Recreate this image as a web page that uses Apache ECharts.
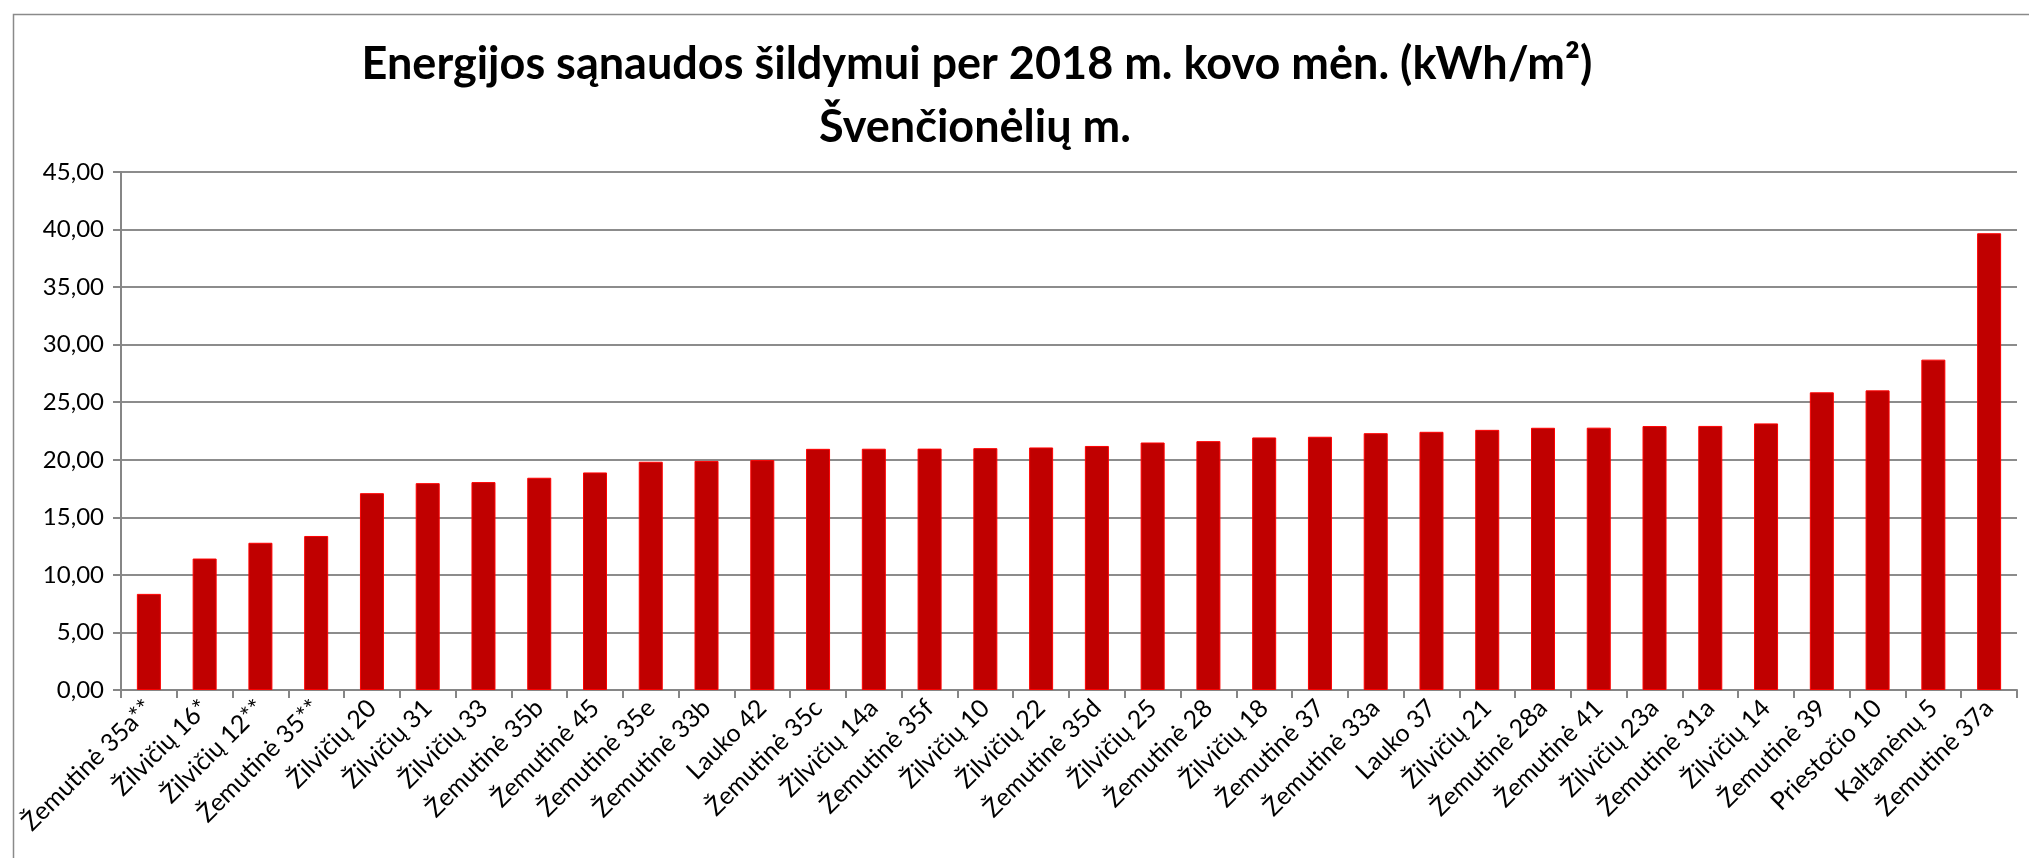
<!DOCTYPE html>
<html>
<head>
<meta charset="utf-8">
<script src="https://cdn.jsdelivr.net/npm/echarts@6/dist/echarts.min.js"></script>
<style>
  html, body { margin: 0; padding: 0; background: #fff; }
  #energy-chart { width: 2029px; height: 858px; }
</style>
</head>
<body>
<div id="energy-chart"></div>
<script>
const titleLines = ['Energijos sąnaudos šildymui per 2018 m. kovo mėn. (kWh/m²)', 'Švenčionėlių m.'];

const buildings = [
  'Žemutinė 35a**', 'Žilvičių 16*', 'Žilvičių 12**', 'Žemutinė 35**', 'Žilvičių 20',
  'Žilvičių 31', 'Žilvičių 33', 'Žemutinė 35b', 'Žemutinė 45', 'Žemutinė 35e',
  'Žemutinė 33b', 'Lauko 42', 'Žemutinė 35c', 'Žilvičių 14a', 'Žemutinė 35f',
  'Žilvičių 10', 'Žilvičių 22', 'Žemutinė 35d', 'Žilvičių 25', 'Žemutinė 28',
  'Žilvičių 18', 'Žemutinė 37', 'Žemutinė 33a', 'Lauko 37', 'Žilvičių 21',
  'Žemutinė 28a', 'Žemutinė 41', 'Žilvičių 23a', 'Žemutinė 31a', 'Žilvičių 14',
  'Žemutinė 39', 'Priestočio 10', 'Kaltanėnų 5', 'Žemutinė 37a'
];

const heatingUse = [
  8.35, 11.42, 12.79, 13.38, 17.10,
  17.97, 18.06, 18.44, 18.90, 19.83,
  19.90, 19.97, 20.95, 20.96, 20.97,
  21.01, 21.07, 21.20, 21.50, 21.62,
  21.94, 22.00, 22.31, 22.43, 22.60,
  22.78, 22.79, 22.93, 22.94, 23.16,
  25.86, 26.03, 28.70, 39.68
];

const yTicks = { min: 0, max: 45, step: 5 };

const chart = echarts.init(document.getElementById('energy-chart'));
const font = 'Lato, "Open Sans", sans-serif';

const option = {
  animation: false,
  backgroundColor: '#ffffff',
  textStyle: { fontFamily: font },
  graphic: [{
    type: 'rect',
    left: 11,
    top: 12,
    shape: { width: 2040, height: 860 },
    style: { fill: 'none', stroke: '#8a8a8a', lineWidth: 1.5 },
    silent: true
  }, {
    type: 'text',
    x: 977,
    y: 42,
    style: {
      text: titleLines[0],
      font: 'bold 45px ' + font,
      fill: '#000',
      textAlign: 'center'
    }
  }, {
    type: 'text',
    x: 975,
    y: 105,
    style: {
      text: titleLines[1],
      font: 'bold 45px ' + font,
      fill: '#000',
      textAlign: 'center'
    }
  }],
  grid: {
    left: 121,
    right: 12,
    top: 172,
    bottom: 168,
    containLabel: false
  },
  xAxis: {
    type: 'category',
    data: buildings,
    axisLine: { lineStyle: { color: '#868686', width: 2 } },
    axisTick: { show: true, length: 8, alignWithLabel: false, lineStyle: { color: '#868686', width: 2 } },
    axisLabel: {
      interval: 0,
      rotate: 45,
      margin: 14,
      fontSize: 25,
      color: '#000',
      fontFamily: font
    }
  },
  yAxis: {
    type: 'value',
    min: yTicks.min,
    max: yTicks.max,
    interval: yTicks.step,
    axisLine: { show: true, lineStyle: { color: '#868686', width: 2 } },
    axisTick: { show: true, length: 8, lineStyle: { color: '#868686', width: 2 } },
    splitLine: { lineStyle: { color: '#8c8c8c', width: 2 } },
    axisLabel: {
      fontSize: 24,
      margin: 17,
      color: '#000',
      fontFamily: font,
      formatter: v => v.toFixed(2).replace('.', ',')
    }
  },
  series: [{
    type: 'bar',
    data: heatingUse,
    barWidth: 24,
    itemStyle: {
      color: '#c00000',
      borderColor: '#ff0000',
      borderWidth: 1
    }
  }]
};

chart.setOption(option);
</script>
</body>
</html>
